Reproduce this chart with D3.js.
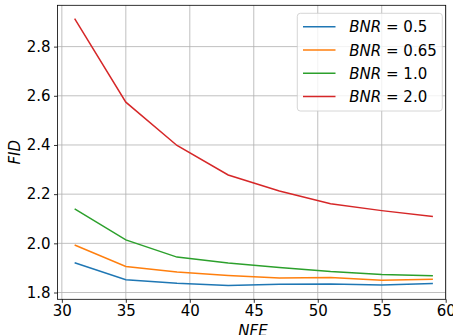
<!DOCTYPE html>
<html><head><meta charset="utf-8">
<script src="https://cdn.jsdelivr.net/npm/d3@7"></script>
<style>body{margin:0;background:#fff;} text{font-family:"DejaVu Sans",sans-serif;}</style>
</head><body>
<svg id="c" width="453" height="335"></svg>
<script>
const nfe = [31, 35, 39, 43, 47, 51, 55, 59];
const bnr05 = [1.921, 1.852, 1.838, 1.829, 1.834, 1.835, 1.831, 1.837];
const bnr065 = [1.993, 1.906, 1.883, 1.869, 1.859, 1.861, 1.850, 1.854];
const bnr10 = [2.140, 2.014, 1.944, 1.920, 1.902, 1.885, 1.873, 1.868];
const bnr20 = [2.914, 2.574, 2.398, 2.278, 2.213, 2.161, 2.133, 2.109];
const seriesNames = ["0.5", "0.65", "1.0", "2.0"];
const seriesValues = [bnr05, bnr065, bnr10, bnr20];
const colors = ["#1f77b4", "#ff7f0e", "#2ca02c", "#d62728"];
const xTicks = [30, 35, 40, 45, 50, 55, 60];
const yTicks = [1.8, 2.0, 2.2, 2.4, 2.6, 2.8];

const L = 57.5, R = 445.7, T = 5.3, B = 299.3;
const x = d3.scaleLinear().domain([29.66, 60.0]).range([L, R]);
const y = d3.scaleLinear().domain([1.7724, 2.968]).range([B, T]);
const svg = d3.select("#c");

// grid
svg.append("g").selectAll("line").data(xTicks).join("line")
  .attr("x1", d => x(d)).attr("x2", d => x(d)).attr("y1", T).attr("y2", B)
  .attr("stroke", "#b0b0b0").attr("stroke-width", 0.8);
svg.append("g").selectAll("line").data(yTicks).join("line")
  .attr("y1", d => y(d)).attr("y2", d => y(d)).attr("x1", L).attr("x2", R)
  .attr("stroke", "#b0b0b0").attr("stroke-width", 0.8);

// lines
const line = d3.line().x((d, i) => x(nfe[i])).y(d => y(d));
seriesValues.forEach((vals, k) => {
  svg.append("path").attr("d", line(vals)).attr("fill", "none")
    .attr("stroke", colors[k]).attr("stroke-width", 1.5);
});

// axes
const xa = svg.append("g").attr("transform", `translate(0,${B})`)
  .call(d3.axisBottom(x).tickValues(xTicks).tickSize(3.5).tickPadding(4).tickFormat(d3.format("d")));
const ya = svg.append("g").attr("transform", `translate(${L},0)`)
  .call(d3.axisLeft(y).tickValues(yTicks).tickSize(3.5).tickPadding(3.5).tickFormat(d3.format(".1f")));
[xa, ya].forEach(a => {
  a.select(".domain").remove();
  a.selectAll("text").attr("font-size", 15).attr("fill", "#000").attr("font-family", "DejaVu Sans");
  a.selectAll("line").attr("stroke", "#000").attr("stroke-width", 0.8);
});
xa.selectAll("text").attr("dy", null).attr("y", 16.8);
// frame
svg.append("rect").attr("x", L).attr("y", T).attr("width", R - L).attr("height", B - T)
  .attr("fill", "none").attr("stroke", "#000").attr("stroke-width", 0.8);

// axis labels
svg.append("text").attr("x", 253).attr("y", 335.5).attr("text-anchor", "middle")
  .attr("font-size", 15).attr("font-style", "italic").text("NFE");
svg.append("text").attr("transform", `translate(19.5,${(T + B) / 2}) rotate(-90)`)
  .attr("text-anchor", "middle").attr("font-size", 15).attr("font-style", "italic").text("FID");

// legend
const lg = svg.append("g");
lg.append("rect").attr("x", 297.3).attr("y", 13.3).attr("width", 145).attr("height", 97.7)
  .attr("rx", 3).attr("fill", "#fff").attr("fill-opacity", 0.8).attr("stroke", "#cccccc").attr("stroke-width", 0.8);
seriesNames.forEach((n, k) => {
  const cy = 26.7 + k * 23.3;
  lg.append("line").attr("x1", 303).attr("x2", 335.5).attr("y1", cy).attr("y2", cy)
    .attr("stroke", colors[k]).attr("stroke-width", 1.5);
  const t = lg.append("text").attr("x", 349.3).attr("y", cy + 5.5).attr("font-size", 15);
  t.append("tspan").attr("font-style", "italic").text("BNR");
  t.append("tspan").text(" = " + n);
});
</script>
</body></html>
